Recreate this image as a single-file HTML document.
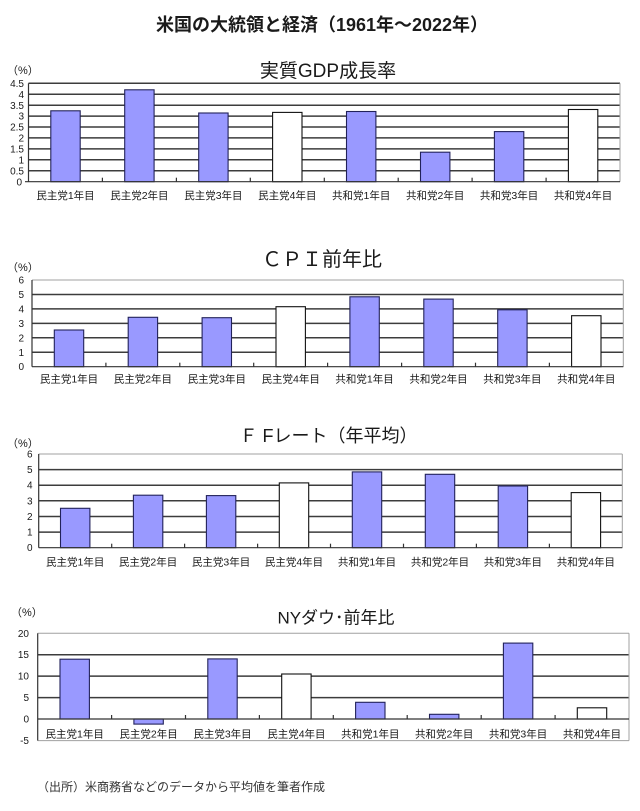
<!DOCTYPE html>
<html>
<head>
<meta charset="utf-8">
<style>
html,body{margin:0;padding:0;background:#fff;}
svg{display:block;}
text{font-family:"Liberation Sans","Noto Sans CJK JP",sans-serif;fill:#1a1a1a;}
.yl{font-size:10px;text-anchor:end;}
.xl{font-size:10.5px;text-anchor:middle;}
.pc{font-size:11px;}
.grid{stroke:#3c3c3c;stroke-width:1.5;}
.lite{stroke:#a0a0a0;stroke-width:1;}
.ax{stroke:#333;stroke-width:1.2;}
.b{fill:#9999ff;stroke:#22225a;stroke-width:1.1;}
.w{fill:#fff;stroke:#111;stroke-width:1.1;}
</style>
</head>
<body>
<svg width="640" height="811" viewBox="0 0 640 811" xmlns="http://www.w3.org/2000/svg">
<rect width="640" height="811" fill="#fff"/>
<text x="322" y="31" style="font-size:18px;font-weight:bold;text-anchor:middle;">米国の大統領と経済（1961年～2022年）</text>

<!-- Chart 1 -->
<text x="328" y="77" style="font-size:19px;text-anchor:middle;">実質GDP成長率</text>
<text x="7" y="74" class="pc">（%）</text>
<g>
<line class="grid" x1="28.5" x2="620" y1="83.3" y2="83.3"/>
<line class="grid" x1="28.5" x2="620" y1="94.2" y2="94.2"/>
<line class="grid" x1="28.5" x2="620" y1="105.2" y2="105.2"/>
<line class="grid" x1="28.5" x2="620" y1="116.1" y2="116.1"/>
<line class="grid" x1="28.5" x2="620" y1="127.0" y2="127.0"/>
<line class="grid" x1="28.5" x2="620" y1="137.9" y2="137.9"/>
<line class="grid" x1="28.5" x2="620" y1="148.9" y2="148.9"/>
<line class="grid" x1="28.5" x2="620" y1="159.8" y2="159.8"/>
<line class="grid" x1="28.5" x2="620" y1="170.8" y2="170.8"/>
<line class="lite" x1="620" x2="620" y1="83.3" y2="181.7"/>
<rect class="b" x="50.8" y="110.8" width="29.4" height="70.9"/>
<rect class="b" x="124.7" y="89.8" width="29.4" height="91.9"/>
<rect class="b" x="198.7" y="113.0" width="29.4" height="68.7"/>
<rect class="w" x="272.6" y="112.4" width="29.4" height="69.3"/>
<rect class="b" x="346.5" y="111.5" width="29.4" height="70.2"/>
<rect class="b" x="420.5" y="152.2" width="29.4" height="29.5"/>
<rect class="b" x="494.4" y="131.6" width="29.4" height="50.1"/>
<rect class="w" x="568.4" y="109.5" width="29.4" height="72.2"/>
<line class="ax" x1="28.5" x2="28.5" y1="83.3" y2="181.7"/>
<line class="ax" x1="25" x2="620" y1="181.7" y2="181.7"/>
<g class="ax"><line x1="102.4" x2="102.4" y1="177.7" y2="181.7"/><line x1="176.4" x2="176.4" y1="177.7" y2="181.7"/><line x1="250.3" x2="250.3" y1="177.7" y2="181.7"/><line x1="324.3" x2="324.3" y1="177.7" y2="181.7"/><line x1="398.2" x2="398.2" y1="177.7" y2="181.7"/><line x1="472.1" x2="472.1" y1="177.7" y2="181.7"/><line x1="546.1" x2="546.1" y1="177.7" y2="181.7"/></g>
<text class="yl" x="24" y="87">4.5</text>
<text class="yl" x="24" y="97.9">4</text>
<text class="yl" x="24" y="108.8">3.5</text>
<text class="yl" x="24" y="119.7">3</text>
<text class="yl" x="24" y="130.6">2.5</text>
<text class="yl" x="24" y="141.6">2</text>
<text class="yl" x="24" y="152.5">1.5</text>
<text class="yl" x="24" y="163.4">1</text>
<text class="yl" x="24" y="174.4">0.5</text>
<text class="yl" x="22" y="185.3">0</text>
<text class="xl" x="65.5" y="199">民主党1年目</text>
<text class="xl" x="139.4" y="199">民主党2年目</text>
<text class="xl" x="213.4" y="199">民主党3年目</text>
<text class="xl" x="287.3" y="199">民主党4年目</text>
<text class="xl" x="361.2" y="199">共和党1年目</text>
<text class="xl" x="435.2" y="199">共和党2年目</text>
<text class="xl" x="509.1" y="199">共和党3年目</text>
<text class="xl" x="583.1" y="199">共和党4年目</text>
</g>

<!-- Chart 2 -->
<text x="322" y="266" style="font-size:20px;text-anchor:middle;">ＣＰＩ前年比</text>
<text x="7" y="271" class="pc">（%）</text>
<g>
<line class="lite" x1="32" x2="623.3" y1="280" y2="280"/>
<line class="grid" x1="32" x2="623.3" y1="294.5" y2="294.5"/>
<line class="grid" x1="32" x2="623.3" y1="308.9" y2="308.9"/>
<line class="grid" x1="32" x2="623.3" y1="323.4" y2="323.4"/>
<line class="grid" x1="32" x2="623.3" y1="337.8" y2="337.8"/>
<line class="grid" x1="32" x2="623.3" y1="352.3" y2="352.3"/>
<line class="lite" x1="623.3" x2="623.3" y1="280" y2="366.7"/>
<rect class="b" x="54.3" y="330.0" width="29.4" height="36.7"/>
<rect class="b" x="128.2" y="317.3" width="29.4" height="49.4"/>
<rect class="b" x="202.1" y="317.7" width="29.4" height="49.0"/>
<rect class="w" x="276.0" y="306.7" width="29.4" height="60.0"/>
<rect class="b" x="349.9" y="296.8" width="29.4" height="69.9"/>
<rect class="b" x="423.8" y="299.1" width="29.4" height="67.6"/>
<rect class="b" x="497.7" y="309.8" width="29.4" height="56.9"/>
<rect class="w" x="571.6" y="315.7" width="29.4" height="51.0"/>
<line class="ax" x1="32" x2="32" y1="280" y2="366.7"/>
<line class="ax" x1="32" x2="623.3" y1="366.7" y2="366.7"/>
<g class="ax"><line x1="105.9" x2="105.9" y1="362.7" y2="366.7"/><line x1="179.8" x2="179.8" y1="362.7" y2="366.7"/><line x1="253.7" x2="253.7" y1="362.7" y2="366.7"/><line x1="327.6" x2="327.6" y1="362.7" y2="366.7"/><line x1="401.6" x2="401.6" y1="362.7" y2="366.7"/><line x1="475.5" x2="475.5" y1="362.7" y2="366.7"/><line x1="549.4" x2="549.4" y1="362.7" y2="366.7"/></g>
<text class="yl" x="24" y="283.5">6</text>
<text class="yl" x="24" y="298">5</text>
<text class="yl" x="24" y="312.4">4</text>
<text class="yl" x="24" y="326.9">3</text>
<text class="yl" x="24" y="341.3">2</text>
<text class="yl" x="24" y="355.8">1</text>
<text class="yl" x="24" y="370.2">0</text>
<text class="xl" x="69" y="382.3">民主党1年目</text>
<text class="xl" x="142.9" y="382.3">民主党2年目</text>
<text class="xl" x="216.8" y="382.3">民主党3年目</text>
<text class="xl" x="290.7" y="382.3">民主党4年目</text>
<text class="xl" x="364.6" y="382.3">共和党1年目</text>
<text class="xl" x="438.5" y="382.3">共和党2年目</text>
<text class="xl" x="512.4" y="382.3">共和党3年目</text>
<text class="xl" x="586.3" y="382.3">共和党4年目</text>
</g>

<!-- Chart 3 -->
<text x="328.5" y="442" style="font-size:18px;text-anchor:middle;">Ｆ Fレート（年平均）</text>
<text x="7" y="447" class="pc">（%）</text>
<g>
<line class="lite" x1="38.7" x2="622.3" y1="454" y2="454"/>
<line class="grid" x1="38.7" x2="622.3" y1="469.6" y2="469.6"/>
<line class="grid" x1="38.7" x2="622.3" y1="485.2" y2="485.2"/>
<line class="grid" x1="38.7" x2="622.3" y1="500.8" y2="500.8"/>
<line class="grid" x1="38.7" x2="622.3" y1="516.5" y2="516.5"/>
<line class="grid" x1="38.7" x2="622.3" y1="532.1" y2="532.1"/>
<line class="lite" x1="622.3" x2="622.3" y1="454" y2="547.7"/>
<rect class="b" x="60.5" y="508.3" width="29.4" height="39.4"/>
<rect class="b" x="133.4" y="495.2" width="29.4" height="52.5"/>
<rect class="b" x="206.4" y="495.6" width="29.4" height="52.1"/>
<rect class="w" x="279.3" y="482.9" width="29.4" height="64.8"/>
<rect class="b" x="352.3" y="471.9" width="29.4" height="75.8"/>
<rect class="b" x="425.3" y="474.3" width="29.4" height="73.4"/>
<rect class="b" x="498.2" y="486.0" width="29.4" height="61.7"/>
<rect class="w" x="571.2" y="492.6" width="29.4" height="55.1"/>
<line class="ax" x1="38.7" x2="38.7" y1="454" y2="547.7"/>
<line class="ax" x1="38.7" x2="622.3" y1="547.7" y2="547.7"/>
<g class="ax"><line x1="111.7" x2="111.7" y1="543.7" y2="547.7"/><line x1="184.6" x2="184.6" y1="543.7" y2="547.7"/><line x1="257.6" x2="257.6" y1="543.7" y2="547.7"/><line x1="330.5" x2="330.5" y1="543.7" y2="547.7"/><line x1="403.5" x2="403.5" y1="543.7" y2="547.7"/><line x1="476.4" x2="476.4" y1="543.7" y2="547.7"/><line x1="549.4" x2="549.4" y1="543.7" y2="547.7"/></g>
<text class="yl" x="32.5" y="457.5">6</text>
<text class="yl" x="32.5" y="473.1">5</text>
<text class="yl" x="32.5" y="488.7">4</text>
<text class="yl" x="32.5" y="504.3">3</text>
<text class="yl" x="32.5" y="520">2</text>
<text class="yl" x="32.5" y="535.6">1</text>
<text class="yl" x="32.5" y="551.2">0</text>
<text class="xl" x="75.2" y="565.7">民主党1年目</text>
<text class="xl" x="148.1" y="565.7">民主党2年目</text>
<text class="xl" x="221.1" y="565.7">民主党3年目</text>
<text class="xl" x="294" y="565.7">民主党4年目</text>
<text class="xl" x="367" y="565.7">共和党1年目</text>
<text class="xl" x="440" y="565.7">共和党2年目</text>
<text class="xl" x="512.9" y="565.7">共和党3年目</text>
<text class="xl" x="585.9" y="565.7">共和党4年目</text>
</g>

<!-- Chart 4 -->
<text x="336" y="623.5" style="font-size:17px;text-anchor:middle;">NYダウ･前年比</text>
<text x="11" y="616" class="pc">（%）</text>
<g>
<line class="lite" x1="37.7" x2="629" y1="633.3" y2="633.3"/>
<line class="grid" x1="37.7" x2="629" y1="654.7" y2="654.7"/>
<line class="grid" x1="37.7" x2="629" y1="676.1" y2="676.1"/>
<line class="grid" x1="37.7" x2="629" y1="697.6" y2="697.6"/>
<line class="lite" x1="37.7" x2="629" y1="740.6" y2="740.6"/>
<line class="lite" x1="629" x2="629" y1="633.3" y2="740.6"/>
<rect class="b" x="60.0" y="659.2" width="29.4" height="59.8"/>
<rect class="b" x="133.9" y="719" width="29.4" height="5.1"/>
<rect class="b" x="207.8" y="658.9" width="29.4" height="60.1"/>
<rect class="w" x="281.7" y="674.0" width="29.4" height="45.0"/>
<rect class="b" x="355.6" y="702.3" width="29.4" height="16.7"/>
<rect class="b" x="429.5" y="714.3" width="29.4" height="4.7"/>
<rect class="b" x="503.4" y="643.1" width="29.4" height="75.9"/>
<rect class="w" x="577.3" y="707.8" width="29.4" height="11.2"/>
<line class="ax" x1="37.7" x2="37.7" y1="633.3" y2="740.6"/>
<line class="ax" x1="37.7" x2="629" y1="719" y2="719"/>
<g class="ax"><line x1="111.6" x2="111.6" y1="715" y2="719"/><line x1="185.5" x2="185.5" y1="715" y2="719"/><line x1="259.4" x2="259.4" y1="715" y2="719"/><line x1="333.3" x2="333.3" y1="715" y2="719"/><line x1="407.2" x2="407.2" y1="715" y2="719"/><line x1="481.2" x2="481.2" y1="715" y2="719"/><line x1="555.1" x2="555.1" y1="715" y2="719"/></g>
<text class="yl" x="29" y="636.8">20</text>
<text class="yl" x="29" y="658.2">15</text>
<text class="yl" x="29" y="679.6">10</text>
<text class="yl" x="29" y="701.1">5</text>
<text class="yl" x="29" y="722.5">0</text>
<text class="yl" x="29" y="744">-5</text>
<text class="xl" x="74.7" y="737.3">民主党1年目</text>
<text class="xl" x="148.6" y="737.3">民主党2年目</text>
<text class="xl" x="222.5" y="737.3">民主党3年目</text>
<text class="xl" x="296.4" y="737.3">民主党4年目</text>
<text class="xl" x="370.3" y="737.3">共和党1年目</text>
<text class="xl" x="444.2" y="737.3">共和党2年目</text>
<text class="xl" x="518.1" y="737.3">共和党3年目</text>
<text class="xl" x="592" y="737.3">共和党4年目</text>
</g>

<text x="37" y="791" style="font-size:12px;fill:#333;">（出所）米商務省などのデータから平均値を筆者作成</text>
</svg>
</body>
</html>
